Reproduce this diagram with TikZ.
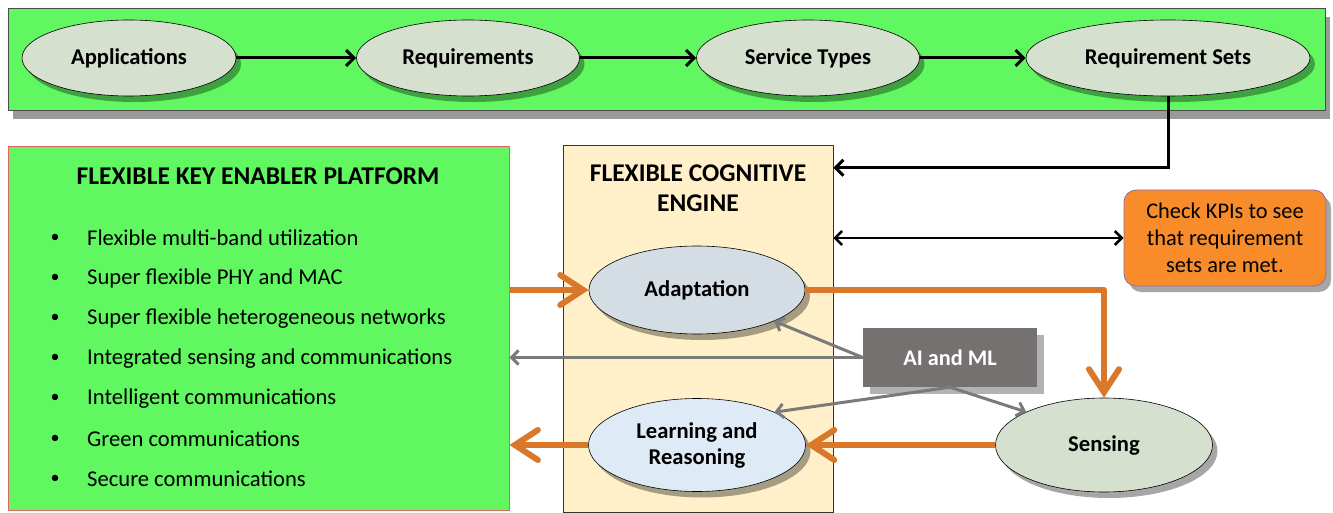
\documentclass[tikz,border=0pt]{standalone}
\usepackage{fontspec}
\setmainfont{Carlito}
\usetikzlibrary{arrows.meta,shadows,shapes.geometric,calc}
\definecolor{brightgreen}{HTML}{60F760}
\definecolor{ellgreen}{HTML}{D5E0CF}
\definecolor{ellblue}{HTML}{D4DCE4}
\definecolor{elllight}{HTML}{DEEBF7}
\definecolor{cream}{HTML}{FFF0C9}
\definecolor{orangeline}{HTML}{D9782A}
\definecolor{orangebox}{HTML}{F88C2B}
\definecolor{purpleedge}{HTML}{8E6CB0}
\definecolor{aigray}{HTML}{767171}
\definecolor{arrowgray}{HTML}{7A7A7A}
\definecolor{redline}{HTML}{E06666}
\tikzset{
  shad/.style={drop shadow={shadow xshift=5pt,shadow yshift=-6pt,fill=black,opacity=0.35}},
  ell/.style={ellipse,draw=black,line width=0.6pt,inner sep=0pt,font=\bfseries\fontsize{22.6}{26}\selectfont,align=center,shad},
  blk/.style={line width=3pt,-{Straight Barb[length=8pt,width=16pt]}},
  blkboth/.style={line width=2.6pt,{Straight Barb[length=7pt,width=14pt]}-{Straight Barb[length=7pt,width=14pt]}},
  org/.style={line width=6pt,draw=orangeline,line join=round,-{Straight Barb[length=23pt,width=30pt,line cap=round]}},
  gry/.style={line width=3pt,draw=arrowgray,-{Straight Barb[length=7pt,width=14pt]}},
  itemtxt/.style={anchor=west,font=\fontsize{22.6}{26}\selectfont,inner sep=0pt},
  bul/.style={font=\fontsize{18}{22}\selectfont,inner sep=0pt}
}
\begin{document}
\begin{tikzpicture}[x=1pt,y=-1pt]
\useasboundingbox (0,0) rectangle (1333,513);
% top band
\node[rectangle,draw=black!70,line width=0.6pt,fill=brightgreen,minimum width=1317pt,minimum height=102pt,inner sep=0pt,
  drop shadow={shadow xshift=5pt,shadow yshift=-9pt,fill=black,opacity=0.4}] (band) at (666.5,59) {};
\node[ell,fill=ellgreen,minimum width=214pt,minimum height=76pt] (app) at (129,58) {Applications};
\node[ell,fill=ellgreen,minimum width=223pt,minimum height=76pt] (req) at (468,58) {Requirements};
\node[ell,fill=ellgreen,minimum width=223pt,minimum height=76pt] (svc) at (808,58) {Service Types};
\node[ell,fill=ellgreen,minimum width=284pt,minimum height=76pt] (rs) at (1168,58) {Requirement Sets};
\draw[blk] (app.east) -- (req.west);
\draw[blk] (req.east) -- (svc.west);
\draw[blk] (svc.east) -- (rs.west);
% platform box
\node[rectangle,draw=redline,line width=0.8pt,fill=brightgreen,minimum width=501pt,minimum height=364pt,inner sep=0pt] (plat) at (258.5,328) {};
\node[font=\bfseries\fontsize{25.5}{30}\selectfont] (plattitle) at (258,176) {FLEXIBLE KEY ENABLER PLATFORM};
\foreach \t [count=\i] in {Flexible multi-band utilization,Super flexible PHY and MAC,Super flexible heterogeneous networks,Integrated sensing and communications,Intelligent communications,Green communications,Secure communications}{
  \pgfmathsetmacro{\yy}{238+40.2*(\i-1)}
  \node[bul] (b\i) at (55,\yy) {•};
  \node[itemtxt] (it\i) at (87,\yy) {\t};
}
% engine box
\node[rectangle,draw=black!80,line width=0.6pt,fill=cream,minimum width=270pt,minimum height=367pt,inner sep=0pt] (eng) at (698,328.5) {};
\node[font=\bfseries\fontsize{25.5}{30}\selectfont,align=center] (engtitle) at (698,188) {FLEXIBLE COGNITIVE\\ENGINE};
% KPI box
\node[rectangle,rounded corners=12pt,draw=purpleedge,line width=0.8pt,fill=orangebox,minimum width=202pt,minimum height=96pt,align=center,
  font=\fontsize{22.4}{27}\selectfont,shad] (kpi) at (1225,238) {Check KPIs to see\\that requirement\\sets are met.};
% ellipses in engine
\node[ell,fill=ellblue,minimum width=216pt,minimum height=88pt] (adapt) at (697,290) {Adaptation};
\node[ell,fill=elllight,minimum width=217pt,minimum height=93pt] (learn) at (697,445) {Learning and\\Reasoning};
\node[ell,fill=ellgreen,minimum width=217pt,minimum height=94pt] (sens) at (1104,445) {Sensing};
% AI box
\node[rectangle,fill=aigray,minimum width=174pt,minimum height=59pt,inner sep=0pt,text=white,font=\bfseries\fontsize{22.3}{26}\selectfont,
  drop shadow={shadow xshift=7pt,shadow yshift=-7pt,fill=black,opacity=0.3}] (ai) at (950,357.5) {AI and ML};
% black connectors
\draw[blk] (rs.south) |- ([yshift=-23pt]eng.north east);
\draw[blkboth] (eng.east |- kpi.west) -- (kpi.west);
% orange connectors
\draw[org] (plat.east |- adapt.west) -- (adapt.west);
\draw[org] (adapt.east) -| (sens.north);
\draw[org] (sens.west) -- (learn.east);
\draw[org] (learn.west) -- (plat.east |- learn.west);
% gray connectors
\draw[gry] (ai.west) -- (plat.east |- ai.west);
\draw[gry] (ai.west) -- (adapt.-22);
\draw[gry] (ai.south) -- (learn.23);
\draw[gry] (ai.south) -- (sens.157);
\end{tikzpicture}
\end{document}
